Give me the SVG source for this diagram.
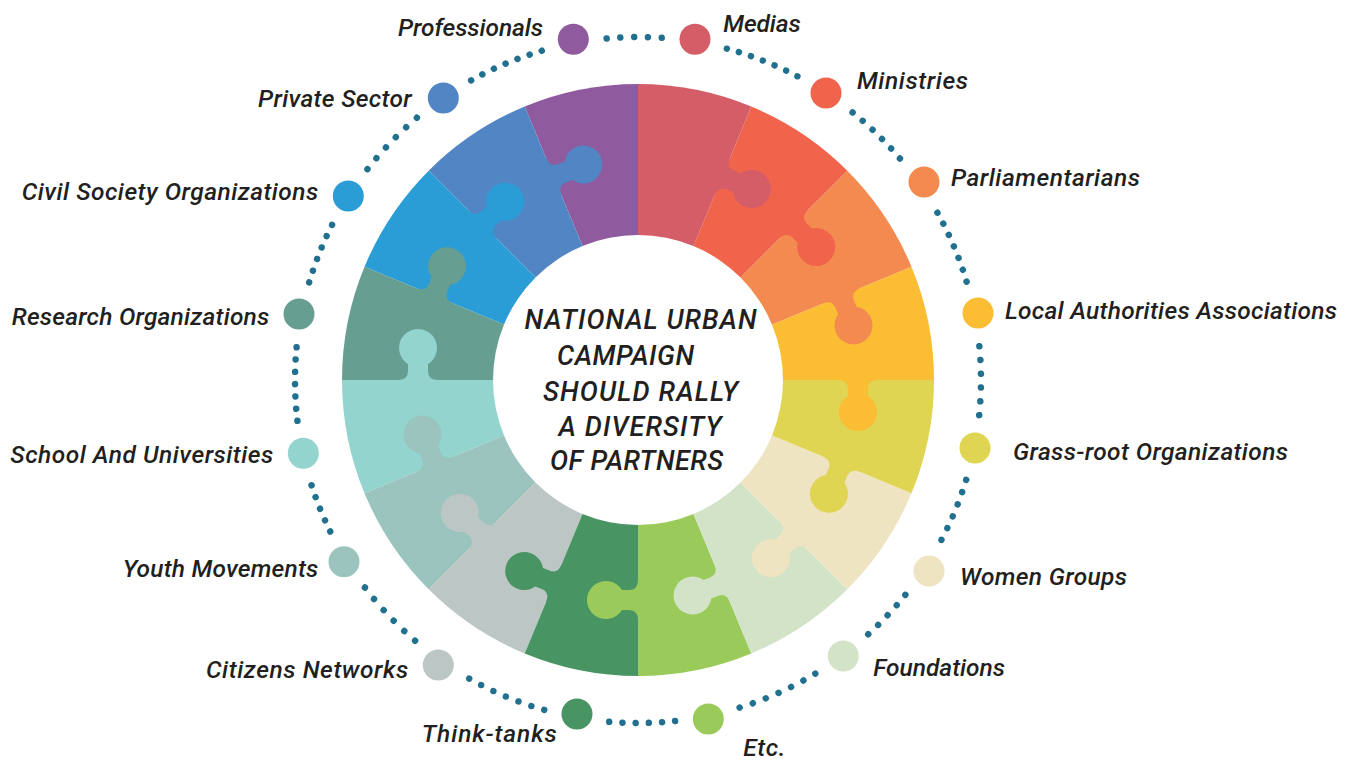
<svg xmlns="http://www.w3.org/2000/svg" xmlns:xlink="http://www.w3.org/1999/xlink" width="1352" height="761" viewBox="0 0 1352 761">
<style>
.lbl{font-family:Roboto,"Liberation Sans",sans-serif;font-style:italic;font-weight:500;font-size:24.5px;fill:#231f20}
.ctr{font-family:Roboto,"Liberation Sans",sans-serif;font-style:italic;font-weight:500;font-size:27px;fill:#231f20;text-anchor:middle}
.end{text-anchor:end}
.dots{fill:none;stroke:#22708f;stroke-width:6.5;stroke-linecap:round}
</style>
<defs>
<path id="knob" d="M-20 -1.5 L-20 0 Q-10 0 -10 9 L-10 15.9 A19 19 0 1 0 10 15.9 L10 9 Q10 0 20 0 L20 -1.5 Z"/>
</defs>
<rect width="1352" height="761" fill="#ffffff"/>

<g id="connectors">
<circle class="dots" cx="638" cy="380" r="343" transform="rotate(264.76 638 380)" stroke-dasharray="0 13.8 0 13.8 0 13.8 0 13.8 0 3000"/>
<circle class="dots" cx="638" cy="380" r="343" transform="rotate(-74.99 638 380)" stroke-dasharray="0 12.67 0 12.67 0 12.67 0 12.67 0 12.67 0 12.67 0 3000"/>
<circle class="dots" cx="638" cy="380" r="343" transform="rotate(-51.27 638 380)" stroke-dasharray="0 13.24 0 13.24 0 13.24 0 13.24 0 13.24 0 3000"/>
<circle class="dots" cx="638" cy="380" r="343" transform="rotate(-29.19 638 380)" stroke-dasharray="0 12.5 0 12.5 0 12.5 0 12.5 0 12.5 0 12.5 0 3000"/>
<circle class="dots" cx="638" cy="380" r="343" transform="rotate(-5.64 638 380)" stroke-dasharray="0 13.8 0 13.8 0 13.8 0 13.8 0 13.8 0 3000"/>
<circle class="dots" cx="638" cy="380" r="343" transform="rotate(16.92 638 380)" stroke-dasharray="0 13 0 13 0 13 0 13 0 13 0 3000"/>
<circle class="dots" cx="638" cy="380" r="343" transform="rotate(38.79 638 380)" stroke-dasharray="0 13.55 0 13.55 0 13.55 0 13.55 0 3000"/>
<circle class="dots" cx="638" cy="380" r="343" transform="rotate(58.87 638 380)" stroke-dasharray="0 13.87 0 13.87 0 13.87 0 13.87 0 13.87 0 13.87 0 3000"/>
<circle class="dots" cx="638" cy="380" r="343" transform="rotate(83.79 638 380)" stroke-dasharray="0 13.2 0 13.2 0 13.2 0 13.2 0 13.2 0 3000"/>
<circle class="dots" cx="638" cy="380" r="343" transform="rotate(105.86 638 380)" stroke-dasharray="0 13.6 0 13.6 0 13.6 0 13.6 0 13.6 0 13.6 0 3000"/>
<circle class="dots" cx="638" cy="380" r="343" transform="rotate(130.53 638 380)" stroke-dasharray="0 14.66 0 14.66 0 14.66 0 14.66 0 14.66 0 3000"/>
<circle class="dots" cx="638" cy="380" r="343" transform="rotate(153.79 638 380)" stroke-dasharray="0 12.5 0 12.5 0 12.5 0 12.5 0 3000"/>
<circle class="dots" cx="638" cy="380" r="343" transform="rotate(173.16 638 380)" stroke-dasharray="0 12.3 0 12.3 0 12.3 0 12.3 0 12.3 0 12.3 0 3000"/>
<circle class="dots" cx="638" cy="380" r="343" transform="rotate(196.53 638 380)" stroke-dasharray="0 12.4 0 12.4 0 12.4 0 12.4 0 12.4 0 3000"/>
<circle class="dots" cx="638" cy="380" r="343" transform="rotate(217.93 638 380)" stroke-dasharray="0 14.3 0 14.3 0 14.3 0 14.3 0 14.3 0 3000"/>
<circle class="dots" cx="638" cy="380" r="343" transform="rotate(240.89 638 380)" stroke-dasharray="0 12.8 0 12.8 0 12.8 0 12.8 0 12.8 0 12.8 0 3000"/>
</g>

<g id="professionals" fill="#905a9f">
<path d="M638 380 L524.73 106.53 A296 296 0 0 1 638 84 Z"/>
<circle cx="573.3" cy="39.3" r="15.5"/>
<text class="lbl end" x="543" y="36" textLength="145">Professionals</text>
</g>
<g id="private-sector" fill="#5185c4">
<path d="M638 380 L428.7 170.7 A296 296 0 0 1 524.73 106.53 Z"/>
<use xlink:href="#knob" transform="translate(553.81 176.75) rotate(247.5)"/>
<circle cx="443.3" cy="98" r="15.5"/>
<text class="lbl end" x="411.7" y="106.7" textLength="153.7">Private Sector</text>
</g>
<g id="civil-society" fill="#2a9dd6">
<path d="M638 380 L364.53 266.73 A296 296 0 0 1 428.7 170.7 Z"/>
<use xlink:href="#knob" transform="translate(482.44 224.44) rotate(225)"/>
<circle cx="348.3" cy="196" r="15.5"/>
<text class="lbl end" x="318.3" y="200" textLength="296.6">Civil Society Organizations</text>
</g>
<g id="research" fill="#669e92">
<path d="M638 380 L342 380 A296 296 0 0 1 364.53 266.73 Z"/>
<use xlink:href="#knob" transform="translate(434.75 295.81) rotate(202.5)"/>
<circle cx="299" cy="314" r="15.5"/>
<text class="lbl end" x="269.3" y="325" textLength="257.6">Research Organizations</text>
</g>
<g id="school" fill="#93d4cf">
<path d="M638 380 L364.53 493.27 A296 296 0 0 1 342 380 Z"/>
<use xlink:href="#knob" transform="translate(418 380) rotate(180)"/>
<circle cx="303.3" cy="453.3" r="15.5"/>
<text class="lbl end" x="273.3" y="462.7" textLength="263">School And Universities</text>
</g>
<g id="youth" fill="#9ac4bd">
<path d="M638 380 L428.7 589.3 A296 296 0 0 1 364.53 493.27 Z"/>
<use xlink:href="#knob" transform="translate(434.75 464.19) rotate(157.5)"/>
<circle cx="344" cy="561.7" r="15.5"/>
<text class="lbl end" x="318.3" y="576.7" textLength="195.6">Youth Movements</text>
</g>
<g id="citizens" fill="#bcc6c5">
<path d="M638 380 L524.73 653.47 A296 296 0 0 1 428.7 589.3 Z"/>
<use xlink:href="#knob" transform="translate(482.44 535.56) rotate(135)"/>
<circle cx="438.3" cy="665" r="15.5"/>
<text class="lbl end" x="408.3" y="677.7" textLength="202.3">Citizens Networks</text>
</g>
<g id="think-tanks" fill="#489563">
<path d="M638 380 L638 676 A296 296 0 0 1 524.73 653.47 Z"/>
<use xlink:href="#knob" transform="translate(553.81 583.25) rotate(112.5)"/>
<circle cx="577" cy="714" r="15.5"/>
<text class="lbl end" x="556.7" y="741.7" textLength="135">Think-tanks</text>
</g>
<g id="etc" fill="#9acb5a">
<path d="M638 380 L751.27 653.47 A296 296 0 0 1 638 676 Z"/>
<use xlink:href="#knob" transform="translate(638 600) rotate(90)"/>
<circle cx="708.3" cy="719" r="15.5"/>
<text class="lbl" x="743.3" y="756" textLength="42">Etc.</text>
</g>
<g id="foundations" fill="#d2e3c8">
<path d="M638 380 L847.3 589.3 A296 296 0 0 1 751.27 653.47 Z"/>
<use xlink:href="#knob" transform="translate(722.19 583.25) rotate(67.5)"/>
<circle cx="843.3" cy="656" r="15.5"/>
<text class="lbl" x="873.3" y="676" textLength="131.7">Foundations</text>
</g>
<g id="women-groups" fill="#efe4c1">
<path d="M638 380 L911.47 493.27 A296 296 0 0 1 847.3 589.3 Z"/>
<use xlink:href="#knob" transform="translate(793.56 535.56) rotate(45)"/>
<circle cx="929" cy="571" r="15.5"/>
<text class="lbl" x="960" y="585" textLength="167">Women Groups</text>
</g>
<g id="grass-root" fill="#dfd552">
<path d="M638 380 L934 380 A296 296 0 0 1 911.47 493.27 Z"/>
<use xlink:href="#knob" transform="translate(841.25 464.19) rotate(22.5)"/>
<circle cx="975" cy="448" r="15.5"/>
<text class="lbl" x="1013" y="460" textLength="275">Grass-root Organizations</text>
</g>
<g id="local-authorities" fill="#fbbd33">
<path d="M638 380 L911.47 266.73 A296 296 0 0 1 934 380 Z"/>
<use xlink:href="#knob" transform="translate(858 380) rotate(0)"/>
<circle cx="978" cy="313" r="15.5"/>
<text class="lbl" x="1005" y="319" textLength="332">Local Authorities Associations</text>
</g>
<g id="parliamentarians" fill="#f38b50">
<path d="M638 380 L847.3 170.7 A296 296 0 0 1 911.47 266.73 Z"/>
<use xlink:href="#knob" transform="translate(841.25 295.81) rotate(-22.5)"/>
<circle cx="924" cy="182" r="15.5"/>
<text class="lbl" x="951" y="186" textLength="189">Parliamentarians</text>
</g>
<g id="ministries" fill="#f0644c">
<path d="M638 380 L751.27 106.53 A296 296 0 0 1 847.3 170.7 Z"/>
<use xlink:href="#knob" transform="translate(793.56 224.44) rotate(-45)"/>
<circle cx="826" cy="93" r="15.5"/>
<text class="lbl" x="857" y="89" textLength="111">Ministries</text>
</g>
<g id="medias" fill="#d45d68">
<path d="M638 380 L638 84 A296 296 0 0 1 751.27 106.53 Z"/>
<use xlink:href="#knob" transform="translate(722.19 176.75) rotate(-67.5)"/>
<circle cx="695" cy="39.3" r="15.5"/>
<text class="lbl" x="723.3" y="31.7" textLength="77.4">Medias</text>
</g>

<g id="center">
<circle cx="638" cy="380" r="145" fill="#ffffff"/>
<text class="ctr" x="640.5" y="329.3" textLength="232">NATIONAL URBAN</text>
<text class="ctr" x="625.5" y="365" textLength="137">CAMPAIGN</text>
<text class="ctr" x="640.5" y="400.7" textLength="195">SHOULD RALLY</text>
<text class="ctr" x="640" y="435.7" textLength="163">A DIVERSITY</text>
<text class="ctr" x="636.5" y="470" textLength="173">OF PARTNERS</text>
</g>
</svg>
